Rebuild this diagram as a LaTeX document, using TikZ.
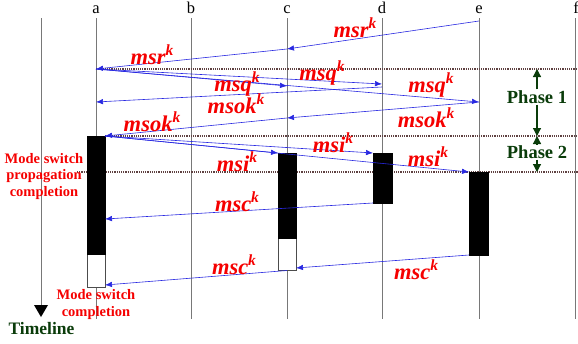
\documentclass[tikz,border=0pt]{standalone}
\usepackage{fontspec}
\setmainfont{Liberation Serif}
\usetikzlibrary{arrows.meta}
\definecolor{msgblue}{RGB}{40,40,225}
\definecolor{lblred}{RGB}{245,0,0}
\definecolor{phgreen}{RGB}{10,60,10}
\definecolor{dotc}{RGB}{95,65,65}
\definecolor{lifegray}{RGB}{120,120,120}
\newcommand{\supk}{\raisebox{0.42em}{\fontsize{15.5}{15.5}\selectfont k}}
\begin{document}
\begin{tikzpicture}[x=1pt,y=-1pt,
  life/.style={draw=lifegray,line width=0.8pt},
  msg/.style={draw=msgblue,line width=0.6pt,-{Latex[length=7pt,width=5.5pt]}},
  msglbl/.style={text=lblred,font=\fontsize{22.5}{22.5}\selectfont\bfseries\itshape,inner sep=0pt},
  phase/.style={text=phgreen,font=\fontsize{18.5}{19}\selectfont\bfseries,inner sep=1pt},
  pharrow/.style={draw=phgreen,line width=1.2pt,-{Triangle[length=8pt,width=8pt]}},
  sidelbl/.style={text=lblred,font=\fontsize{14.5}{16.5}\selectfont\bfseries,align=center,inner sep=0pt},
  collbl/.style={font=\fontsize{16.5}{16.5}\selectfont,inner sep=0pt,anchor=base},
  sep/.style={draw=dotc,line width=1.1pt,dash pattern=on 1.1pt off 1.1pt},
  busy/.style={fill=black,draw=black,line width=0.4pt},
  idle/.style={fill=white,draw=black!70,line width=0.6pt}]
\useasboundingbox (0,0) rectangle (578,343);
% column labels
\node[collbl] (la) at (96,13.5) {a};
\node[collbl] (lb) at (191,13.5) {b};
\node[collbl] (lc) at (287,13.5) {c};
\node[collbl] (ld) at (382,13.5) {d};
\node[collbl] (le) at (479,13.5) {e};
\node[collbl] (lf) at (576,13.5) {f};
% lifelines
\coordinate (ta) at (96,18);  \coordinate (ba) at (96,319);
\coordinate (tb) at (191,18); \coordinate (bb) at (191,319);
\coordinate (tc) at (287,18); \coordinate (bc) at (287,319);
\coordinate (td) at (382,18); \coordinate (bd) at (382,319);
\coordinate (te) at (479,18); \coordinate (be) at (479,319);
\coordinate (tf) at (575,18); \coordinate (bf) at (575,319);
\foreach \n in {a,b,c,d,e,f} {\draw[life] (t\n) -- (b\n);}
% timeline
\coordinate (tt) at (41,18);
\coordinate (bt) at (41,305);
\draw[draw=lifegray,line width=0.8pt] (tt) -- (bt);
\fill[black] (34,305) -- (48,305) -- (41,317) -- cycle;
\node[text=phgreen,font=\fontsize{17.5}{18}\selectfont\bfseries,inner sep=0pt] (tl) at (41.5,329) {Timeline};
% dotted separators
\coordinate (s1a) at (96,69);  \coordinate (s1b) at (578,69);
\coordinate (s2a) at (105,136); \coordinate (s2b) at (578,136);
\coordinate (s3a) at (77,172); \coordinate (s3b) at (578,172);
\draw[sep] (s1a) -- (s1b);
\draw[sep] (s2a) -- (s2b);
\draw[sep] (s3a) -- (s3b);
% activity boxes
\draw[idle] (87,254) rectangle (105,287);
\draw[busy] (87,136) rectangle (105,254);
\draw[idle] (278,238) rectangle (296,270);
\draw[busy] (278,153) rectangle (296,238);
\draw[busy] (373,153) rectangle (392,203);
\draw[busy] (469,172) rectangle (488,255);
% message points
\coordinate (e1) at (479,21);
\coordinate (c1) at (287,49);
\coordinate (a1) at (96,69);
\coordinate (c2) at (287,86);
\coordinate (d2) at (382,84);
\coordinate (e2) at (479,102);
\coordinate (d3) at (382,87);
\coordinate (a3) at (96,102);
\coordinate (c3) at (287,118);
\coordinate (a4) at (105,136);
\coordinate (c4) at (278,153);
\coordinate (d4) at (373,153);
\coordinate (e4) at (469,172);
\coordinate (d5) at (373,203);
\coordinate (a5) at (105,219);
\coordinate (e5) at (469,255);
\coordinate (c5) at (296,268);
\coordinate (c6) at (287,270.5);
\coordinate (a6) at (105,285);
% messages
\draw[msg] (e1) -- (c1);
\draw[msg] (c1) -- (a1);
\draw[msg] (a1) -- (c2);
\draw[msg] (a1) -- (d2);
\draw[msg] (a1) -- (e2);
\draw[msg] (d3) -- (a3);
\draw[msg] (e2) -- (c3);
\draw[msg] (c3) -- (a4);
\draw[msg] (a4) -- (c4);
\draw[msg] (a4) -- (d4);
\draw[msg] (a4) -- (e4);
\draw[msg] (d5) -- (a5);
\draw[msg] (e5) -- (c5);
\draw[msg] (c6) -- (a6);
% message labels
\node[msglbl] (lr1) at (152,55) {msr\supk};
\node[msglbl] (lr2) at (355,28) {msr\supk};
\node[msglbl] (lq1) at (237,84) {msq\supk};
\node[msglbl] (lq2) at (322,73) {msq\supk};
\node[msglbl] (lq3) at (431,85) {msq\supk};
\node[msglbl] (lo1) at (236,104) {msok\supk};
\node[msglbl] (lo2) at (152,122) {msok\supk};
\node[msglbl] (lo3) at (426,118) {msok\supk};
\node[msglbl] (li1) at (237,162) {msi\supk};
\node[msglbl] (li2) at (333,143) {msi\supk};
\node[msglbl] (li3) at (428,157) {msi\supk};
\node[msglbl] (lc1) at (237,202) {msc\supk};
\node[msglbl] (lc2) at (234,265) {msc\supk};
\node[msglbl] (lc3) at (416,270) {msc\supk};
% side labels
\node[sidelbl] (mprop) at (44,176.5) {Mode switch\\propagation\\completion};
\node[sidelbl] (mcomp) at (96,304.5) {Mode switch\\completion};
% phases
\node[phase] (p1) at (537,97) {Phase 1};
\node[phase] (p2) at (537,152) {Phase 2};
\coordinate (p1t) at (537,69);
\coordinate (p1b) at (537,136);
\coordinate (p2t) at (537,136);
\coordinate (p2b) at (537,172);
\draw[pharrow] (p1.north) -- (p1t);
\draw[pharrow] (p1.south) -- (p1b);
\draw[pharrow] (p2.north) -- (p2t);
\draw[pharrow] (p2.south) -- (p2b);
\end{tikzpicture}
\end{document}
